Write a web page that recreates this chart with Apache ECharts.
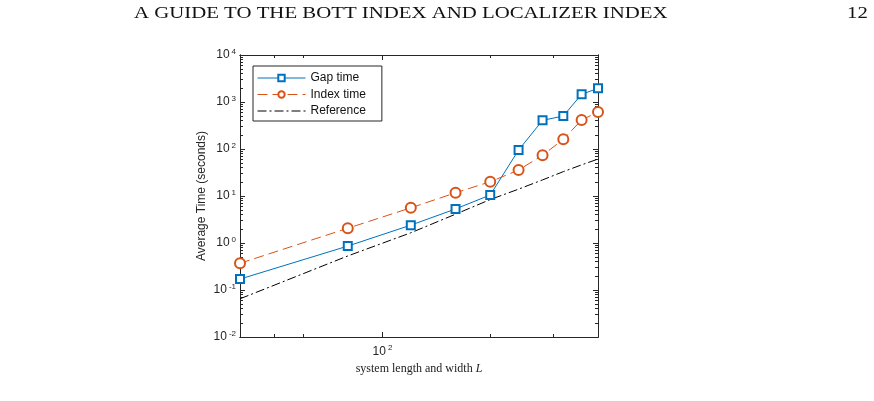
<!DOCTYPE html>
<html>
<head>
<meta charset="utf-8">
<script src="https://cdn.jsdelivr.net/npm/echarts@6/dist/echarts.min.js"></script>
<style>
  html, body { margin: 0; padding: 0; background: #fff; }
  #main { width: 874px; height: 401px; }
</style>
</head>
<body>
<div id="main"></div>
<script>
// Data
var lengths = [40, 80, 120, 160, 200, 240, 280, 320, 360, 400];
var gapTime = [0.171, 0.86, 2.4, 5.3, 10.5, 95, 407, 503, 1460, 1950];
var indexTime = [0.37, 2.06, 5.6, 11.7, 20.1, 35.7, 73.5, 161, 414, 612];
var referenceTime = [0.065, 0.53, 1.65, 4.1, 8.4, 14, 22, 33, 46, 61];

var xMajor = [100];
var xMinor = [50, 60, 200, 300];
var yMajor = [0.01, 0.1, 1, 10, 100, 1000, 10000];

var axisColor = '#262626';

// minor ticks 2..9 in each decade
var yMinor = [];
for (var d = -2; d < 4; d++) {
  for (var m = 2; m <= 9; m++) {
    yMinor.push(m * Math.pow(10, d));
  }
}

function pairs(ys) {
  return lengths.map(function (x, i) { return [x, ys[i]]; });
}

function powLabel(v) {
  var e = Math.round(Math.log(v) / Math.LN10);
  return '{b|10}{s|' + e + '}';
}

var labelRich = {
  b: { fontSize: 12, color: axisColor, fontFamily: 'Liberation Sans' },
  s: { fontSize: 8, color: axisColor, fontFamily: 'Liberation Sans', padding: [0, 0, 7, 2] }
};

function xAxisDef(pos, ticks, len, label) {
  return {
    type: 'log', min: 40, max: 400, position: pos, gridIndex: 0,
    axisLine: { show: true, onZero: false, lineStyle: { color: axisColor, width: 1 } },
    axisTick: { show: true, inside: true, length: len, customValues: ticks, lineStyle: { color: axisColor } },
    axisLabel: { show: label, customValues: ticks, formatter: powLabel, rich: labelRich, margin: 7 },
    splitLine: { show: false }, minorTick: { show: false }
  };
}

function yAxisDef(pos, ticks, len, label) {
  return {
    type: 'log', min: 0.01, max: 10000, position: pos, gridIndex: 0,
    axisLine: { show: true, onZero: false, lineStyle: { color: axisColor, width: 1 } },
    axisTick: { show: true, inside: true, length: len, customValues: ticks, lineStyle: { color: axisColor } },
    axisLabel: { show: label, customValues: ticks, formatter: powLabel, rich: labelRich, margin: 4 },
    splitLine: { show: false }, minorTick: { show: false }
  };
}

var xAxes = [
  xAxisDef('bottom', xMajor, 5, true),
  xAxisDef('bottom', xMinor, 3, false),
  xAxisDef('top', xMajor, 5, false),
  xAxisDef('top', xMinor, 3, false)
];
xAxes[0].name = '{a|system length and width }{i|L}';
xAxes[0].nameLocation = 'middle';
xAxes[0].nameGap = 25;
xAxes[0].nameTextStyle = {
  rich: {
    a: { fontFamily: 'Liberation Serif', fontSize: 12, color: '#222' },
    i: { fontFamily: 'Liberation Serif', fontSize: 12, fontStyle: 'italic', color: '#222' }
  }
};

var yAxes = [
  yAxisDef('left', yMajor, 5, true),
  yAxisDef('left', yMinor, 3, false),
  yAxisDef('right', yMajor, 5, false),
  yAxisDef('right', yMinor, 3, false)
];
yAxes[0].name = 'Average Time (seconds)';
yAxes[0].nameLocation = 'middle';
yAxes[0].nameGap = 32;
yAxes[0].nameTextStyle = { fontFamily: 'Liberation Sans', fontSize: 12, color: axisColor };

var chart = echarts.init(document.getElementById('main'));

chart.setOption({
  animation: false,
  backgroundColor: '#fff',
  grid: { left: 240, right: 276, top: 55, bottom: 64, containLabel: false },
  graphic: [
    { type: 'text', left: 134, top: 6, scaleX: 1.3, style: { text: 'A GUIDE TO THE BOTT INDEX AND LOCALIZER INDEX', font: '16px "Liberation Serif"', fill: '#111' } },
    { type: 'text', left: 847, top: 6, scaleX: 1.3, style: { text: '12', font: '16px "Liberation Serif"', fill: '#111' } }
  ],
  legend: {
    orient: 'vertical', left: 253, top: 66,
    padding: [5, 16, 3, 4], itemGap: 2.5,
    itemWidth: 48, itemHeight: 8,
    borderColor: axisColor, borderWidth: 1, backgroundColor: '#fff',
    lineStyle: { width: 1 },
    itemStyle: { borderWidth: 1 },
    textStyle: { fontFamily: 'Liberation Sans', fontSize: 12, color: '#111', lineHeight: 14 },
    data: [
      { name: 'Gap time' },
      { name: 'Index time' },
      { name: 'Reference', itemStyle: { opacity: 0 } }
    ]
  },
  xAxis: xAxes,
  yAxis: yAxes,
  series: [
    {
      name: 'Gap time', type: 'line', xAxisIndex: 0, yAxisIndex: 0,
      data: pairs(gapTime),
      symbol: 'emptyRect', symbolSize: 8,
      lineStyle: { color: '#0072BD', width: 1 },
      itemStyle: { color: '#0072BD', borderWidth: 1 }
    },
    {
      name: 'Index time', type: 'line', xAxisIndex: 0, yAxisIndex: 0,
      data: pairs(indexTime),
      symbol: 'emptyCircle', symbolSize: 10,
      lineStyle: { color: '#D95319', width: 1, type: [10, 5] },
      itemStyle: { color: '#D95319', borderWidth: 1 }
    },
    {
      name: 'Reference', type: 'line', xAxisIndex: 0, yAxisIndex: 0,
      data: pairs(referenceTime),
      symbol: 'none',
      lineStyle: { color: '#000', width: 1, type: [9, 3, 2, 3] },
      itemStyle: { color: '#000' }
    }
  ]
});
</script>
</body>
</html>
